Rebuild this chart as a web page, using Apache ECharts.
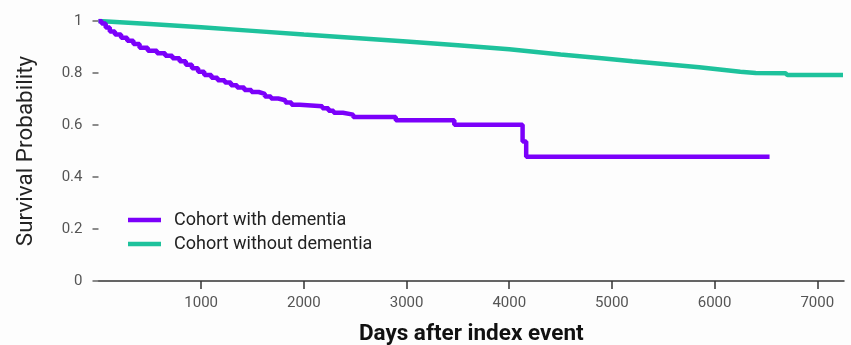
<!DOCTYPE html>
<html>
<head>
<meta charset="utf-8">
<script src="https://cdn.jsdelivr.net/npm/echarts@6/dist/echarts.min.js"></script>
<style>
html,body{margin:0;padding:0;background:#fdfdfd;}
#c{width:851px;height:345px;}
</style>
</head>
<body>
<div id="c"></div>
<script>
var seriesNames = ['Cohort with dementia', 'Cohort without dementia'];
var xTicks = [0, 1000, 2000, 3000, 4000, 5000, 6000, 7000];
var yTicks = [0, 0.2, 0.4, 0.6, 0.8, 1];

var dementiaDays = [0, 30, 70, 110, 160, 220, 280, 340, 400, 480, 570, 650, 720, 790, 850, 910, 970, 1030, 1100, 1160, 1230, 1290, 1350, 1420, 1490, 1560, 1620, 1680, 1750, 1820, 1880, 1960, 2180, 2240, 2290, 2380, 2480, 2895, 3465, 4130, 4165, 6535];
var dementiaSurv = [1.0, 0.99, 0.975, 0.96, 0.948, 0.936, 0.924, 0.912, 0.897, 0.886, 0.876, 0.866, 0.857, 0.845, 0.832, 0.818, 0.805, 0.792, 0.782, 0.772, 0.763, 0.753, 0.744, 0.735, 0.727, 0.72, 0.71, 0.702, 0.695, 0.687, 0.678, 0.672, 0.664, 0.655, 0.647, 0.64, 0.631, 0.618, 0.601, 0.537, 0.478, 0.478];

var noDementiaDays = [0, 500, 1000, 1500, 2000, 2500, 3000, 3500, 4000, 4500, 4900, 5200, 5500, 5850, 6250, 6400, 6690, 6710, 7250];
var noDementiaSurv = [1.0, 0.988, 0.976, 0.962, 0.948, 0.935, 0.921, 0.907, 0.891, 0.871, 0.857, 0.845, 0.835, 0.822, 0.805, 0.80, 0.799, 0.792, 0.792];

function pairs(xs, ys) { return xs.map(function (x, i) { return [x, ys[i]]; }); }

var chart = echarts.init(document.getElementById('c'));
chart.setOption({
  animation: false,
  backgroundColor: '#fdfdfd',
  textStyle: { fontFamily: 'Roboto' },
  grid: { left: 98.5, right: 7, top: 21, bottom: 64, containLabel: false, outerBoundsMode: 'none' },
  legend: {
    orient: 'vertical',
    left: 123,
    top: 206,
    itemWidth: 33,
    itemHeight: 4.5,
    itemGap: 6,
    icon: 'rect',
    textStyle: { fontSize: 18, color: '#222', fontFamily: 'Roboto', padding: [0, 0, 0, 8] },
    data: seriesNames
  },
  xAxis: {
    type: 'value',
    min: 0,
    max: 7260,
    interval: 1000,
    name: 'Days after index event',
    nameLocation: 'middle',
    nameGap: 42,
    nameTextStyle: { fontSize: 22.5, fontWeight: 'bold', color: '#111', fontFamily: 'Roboto' },
    axisLine: { show: true, lineStyle: { color: '#333', width: 1.5 } },
    axisTick: { show: true, length: 8, lineStyle: { color: '#333', width: 1.5 } },
    axisLabel: { showMinLabel: false, showMaxLabel: false, fontSize: 15, color: '#555', margin: 15,
      formatter: function (v) { return xTicks.indexOf(v) >= 0 ? String(v) : ''; } },
    splitLine: { show: false }
  },
  yAxis: {
    type: 'value',
    min: 0,
    max: 1,
    interval: 0.2,
    name: 'Survival Probability',
    nameLocation: 'middle',
    nameGap: 61,
    nameTextStyle: { fontSize: 22.5, color: '#222', fontFamily: 'Roboto' },
    axisLine: { show: false },
    axisTick: { show: true, length: 6, lineStyle: { color: '#666', width: 1.5 } },
    axisLabel: { fontSize: 15, color: '#555', margin: 16,
      formatter: function (v) { return String(+v.toFixed(1)); } },
    splitLine: { show: false }
  },
  series: [
    {
      name: seriesNames[0],
      type: 'line',
      step: 'end',
      showSymbol: false,
      symbol: 'none',
      data: pairs(dementiaDays, dementiaSurv),
      lineStyle: { color: '#7b00fa', width: 4.5 },
      itemStyle: { color: '#7b00fa' },
      z: 3
    },
    {
      name: seriesNames[1],
      type: 'line',
      showSymbol: false,
      symbol: 'none',
      data: pairs(noDementiaDays, noDementiaSurv),
      lineStyle: { color: '#1ec29c', width: 4.5 },
      itemStyle: { color: '#1ec29c' },
      z: 2
    }
  ]
});
</script>
</body>
</html>
